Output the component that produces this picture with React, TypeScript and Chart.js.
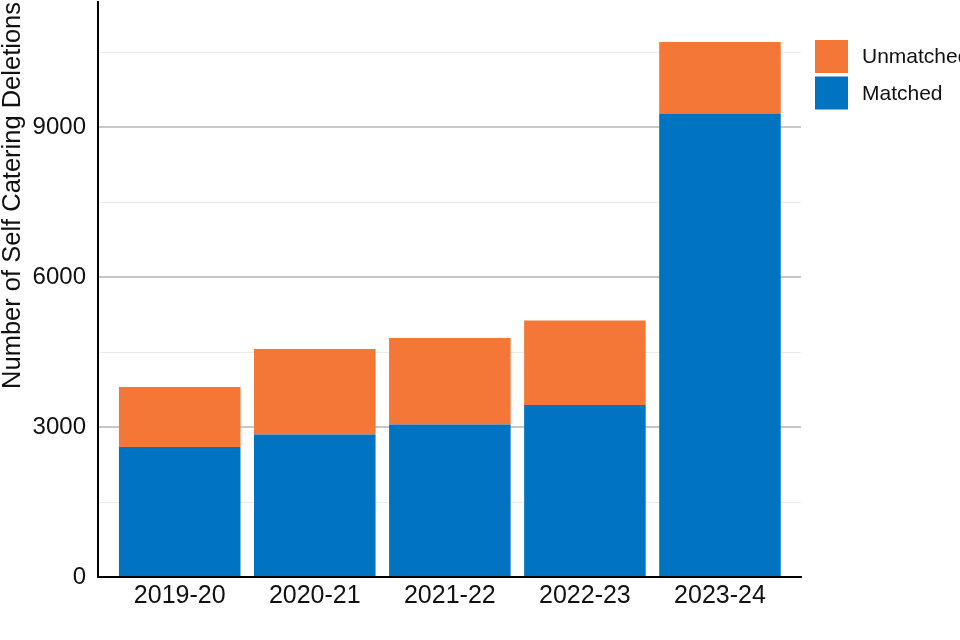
import React, { useEffect, useRef } from 'react';
import { Chart, registerables } from 'chart.js';

Chart.register(...registerables);

const categories = ['2019-20', '2020-21', '2021-22', '2022-23', '2023-24'];
const matched = [2600, 2850, 3050, 3440, 9270];
const unmatched = [1200, 1710, 1730, 1690, 1430];
const seriesNames = { matched: 'Matched', unmatched: 'Unmatched' };
const seriesColors = { matched: '#0074C1', unmatched: '#F47738' };
const yMajorTicks = [0, 3000, 6000, 9000];
const yMinorTicks = [1500, 4500, 7500, 10500];
const yAxisTitle = 'Number of Self Catering Deletions';
const yMax = 11500;
const xMin = 0.395;
const xMax = 5.6;

const FONT = '"Liberation Sans", Arial, Helvetica, sans-serif';
const TEXT = '#111111';

const legendPlugin = {
  id: 'sideLegend',
  afterDraw(chart: any) {
    const ctx = chart.ctx;
    const items = [
      { label: seriesNames.unmatched, color: seriesColors.unmatched },
      { label: seriesNames.matched, color: seriesColors.matched },
    ];
    ctx.save();
    items.forEach((it, i) => {
      const y = 40 + i * 36.5;
      ctx.fillStyle = it.color;
      ctx.fillRect(815, y, 33, 33);
      ctx.fillStyle = TEXT;
      ctx.font = `21px ${FONT}`;
      ctx.textBaseline = 'middle';
      ctx.textAlign = 'left';
      ctx.fillText(it.label, 862, y + 17.5);
    });
    ctx.restore();
  },
};

const xAxisOverPlugin = {
  id: 'xAxisOver',
  afterDatasetsDraw(chart: any) {
    const { ctx, chartArea } = chart;
    ctx.save();
    ctx.strokeStyle = '#000';
    ctx.lineWidth = 2;
    ctx.beginPath();
    ctx.moveTo(chartArea.left - 1, chartArea.bottom);
    ctx.lineTo(chartArea.right, chartArea.bottom);
    ctx.stroke();
    ctx.restore();
  },
};

export default function App() {
  const ref = useRef<HTMLCanvasElement | null>(null);

  useEffect(() => {
    if (!ref.current) return;
    const chart = new Chart(ref.current, {
      type: 'bar',
      data: {
        datasets: [
          {
            label: seriesNames.matched,
            data: matched.map((v, i) => ({ x: i + 1, y: v })),
            backgroundColor: seriesColors.matched,
            borderWidth: 0,
            stack: 'total',
          },
          {
            label: seriesNames.unmatched,
            data: unmatched.map((v, i) => ({ x: i + 1, y: v })),
            backgroundColor: seriesColors.unmatched,
            borderWidth: 0,
            stack: 'total',
          },
        ],
      },
      options: {
        responsive: false,
        animation: false,
        devicePixelRatio: 1,
        categoryPercentage: 1,
        barPercentage: 0.9,
        layout: { padding: { top: 2, right: 159, left: 0, bottom: 0 } },
        plugins: {
          legend: { display: false },
          tooltip: { enabled: false },
          title: { display: false },
        },
        scales: {
          x: {
            type: 'linear',
            min: xMin,
            max: xMax,
            offset: false,
            afterBuildTicks: (axis: any) => {
              axis.ticks = categories.map((_, i) => ({ value: i + 1 }));
            },
            afterFit: (s: any) => {
              s.height = 63;
              s.paddingLeft = 0;
              s.paddingRight = 0;
            },
            grid: { display: false, drawTicks: false },
            border: { display: true, color: '#000', width: 2 },
            ticks: {
              autoSkip: false,
              maxRotation: 0,
              padding: 4,
              color: TEXT,
              font: { family: FONT, size: 25 },
              callback: (v: any) => categories[Math.round(Number(v)) - 1] ?? '',
            },
          },
          y: {
            type: 'linear',
            stacked: true,
            min: 0,
            max: yMax,
            afterBuildTicks: (axis: any) => {
              axis.ticks = [...yMajorTicks, ...yMinorTicks]
                .sort((a, b) => a - b)
                .map((v) => ({ value: v }));
            },
            afterFit: (s: any) => {
              s.width = 98;
              s.paddingTop = 0;
              s.paddingBottom = 0;
            },
            grid: {
              drawTicks: false,
              color: (c: any) => (yMajorTicks.includes(c.tick?.value) ? '#c8c8c8' : '#ebebeb'),
              lineWidth: (c: any) => (yMajorTicks.includes(c.tick?.value) ? 2 : 1),
            },
            border: { display: true, color: '#000', width: 2 },
            ticks: {
              padding: 12,
              color: TEXT,
              font: { family: FONT, size: 24 },
              callback: (v: any) => (yMajorTicks.includes(Number(v)) ? String(v) : ''),
            },
            title: {
              display: true,
              text: yAxisTitle,
              align: 'end',
              color: TEXT,
              padding: 0,
              font: { family: FONT, size: 25.5, lineHeight: 1 },
            },
          },
        },
      } as any,
      plugins: [legendPlugin, xAxisOverPlugin],
    });
    return () => chart.destroy();
  }, []);

  return (
    <div style={{ position: 'absolute', left: 0, top: 0, width: 960, height: 640, background: '#fff' }}>
      <canvas ref={ref} width={960} height={640} />
    </div>
  );
}
